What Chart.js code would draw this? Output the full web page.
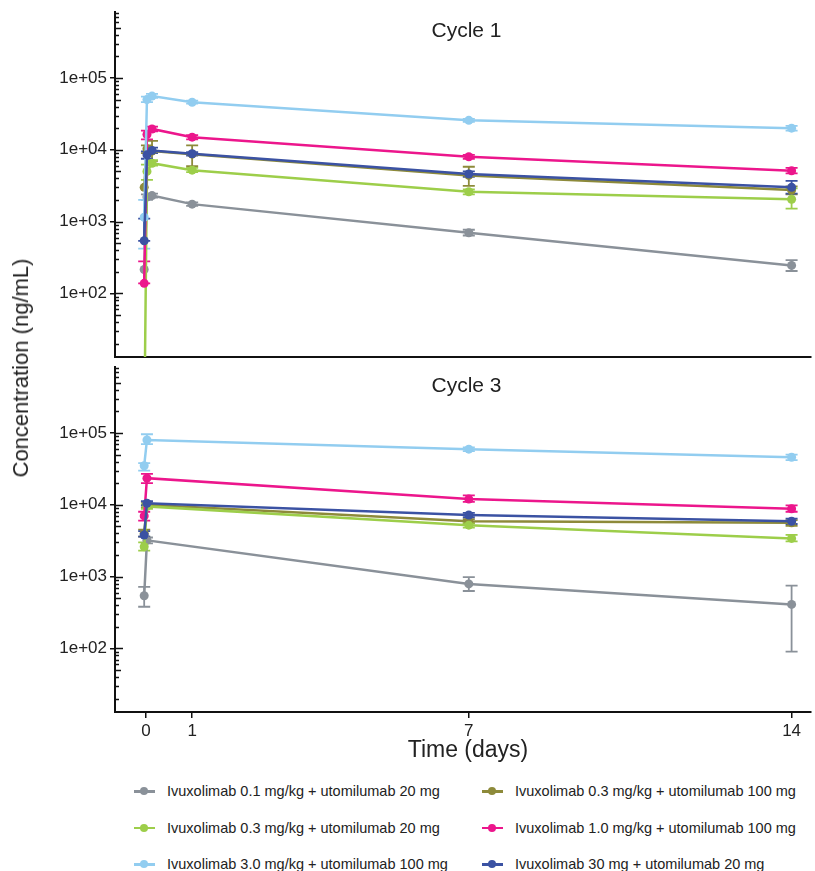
<!DOCTYPE html>
<html>
<head>
<meta charset="utf-8">
<script src="https://cdn.jsdelivr.net/npm/chart.js@4.4.0/dist/chart.umd.min.js"></script>
<style>
  body { margin: 0; background: #fff; font-family: "Liberation Sans", Arial, sans-serif; color: #222; }
  #wrap { position: relative; width: 815px; height: 871px; overflow: hidden; }
  #c1 { position: absolute; left: 0; top: 0; }
  #c3 { position: absolute; left: 0; top: 362px; }
  .ytitle { position: absolute; left: 21px; top: 368px; transform: translate(-50%, -50%) rotate(-90deg); font-size: 22px; white-space: nowrap; }
  .xtitle { position: absolute; left: 468px; top: 749px; transform: translate(-50%, -50%); font-size: 23px; white-space: nowrap; }
  .leg { position: absolute; font-size: 14.5px; display: flex; align-items: center; white-space: nowrap; height: 18px; }
  .mk { position: relative; width: 21px; height: 10px; margin-right: 12px; }
  .mk .ln { position: absolute; left: 0; right: 0; top: 4px; height: 2.5px; }
  .mk .dt { position: absolute; left: 6px; top: 1px; width: 8px; height: 8px; border-radius: 50%; }
</style>
</head>
<body>
<div id="wrap">
  <canvas id="c1" width="815" height="362"></canvas>
  <canvas id="c3" width="815" height="390"></canvas>
  <div class="ytitle">Concentration (ng/mL)</div>
  <div class="xtitle">Time (days)</div>
  <div id="legend"></div>
</div>
<script>
// series, in legend order
const seriesLabels = [
  'Ivuxolimab 0.1 mg/kg + utomilumab 20 mg',
  'Ivuxolimab 0.3 mg/kg + utomilumab 100 mg',
  'Ivuxolimab 0.3 mg/kg + utomilumab 20 mg',
  'Ivuxolimab 1.0 mg/kg + utomilumab 100 mg',
  'Ivuxolimab 3.0 mg/kg + utomilumab 100 mg',
  'Ivuxolimab 30 mg + utomilumab 20 mg'
];
const seriesColors = ['#8a9199', '#8d8a3a', '#9dce4a', '#ec168c', '#92cdf0', '#3b52a3'];

// Cycle 1 (days)
const timesC1 = [-0.04, 0.02, 0.13, 1, 7, 14];
const c1Mean = [
  [215, 2200, 2300, 1750, 700, 245],
  [3000, 10300, 9600, 8700, 4400, 2750],
  [1, 5000, 6500, 5200, 2600, 2050],
  [138, 16300, 19500, 15000, 8000, 5100],
  [1150, 50000, 56000, 46000, 25700, 20000],
  [540, 8500, 9800, 8800, 4600, 3000]
];
const c1Lo = [
  [null, 2000, 2150, 1650, 640, 205],
  [null, 9000, 7000, 5900, 3150, 2400],
  [null, 3800, 6000, 4900, 2400, 1520],
  [138, 14000, 18000, 14000, 7500, 4700],
  [420, 46000, 53000, 44000, 24500, 18500],
  [540, 7500, 9000, 8300, 4200, 2450]
];
const c1Hi = [
  [null, 2400, 2450, 1850, 770, 290],
  [null, 11500, 13300, 11500, 5800, 3100],
  [null, 6200, 7200, 5600, 2800, 2900],
  [280, 18500, 21000, 16000, 8500, 5600],
  [2000, 55000, 60000, 48500, 27000, 21500],
  [1100, 9500, 10700, 9300, 5000, 3700]
];

// Cycle 3 (days)
const timesC3 = [-0.04, 0.02, 7, 14];
const c3Mean = [
  [540, 3200, 790, 410],
  [4000, 10000, 5900, 5600],
  [2600, 9500, 5200, 3400],
  [7000, 23500, 12000, 8800],
  [35000, 80000, 59500, 46000],
  [3800, 10500, 7200, 5900]
];
const c3Lo = [
  [380, 2900, 630, 90],
  [3600, 9200, 5500, 5100],
  [2300, 8800, 4800, 3100],
  [6000, 20000, 11000, 8000],
  [30000, 70000, 56000, 42000],
  [3600, 9800, 6700, 5400]
];
const c3Hi = [
  [720, 3500, 980, 750],
  [4500, 11000, 6300, 6100],
  [3000, 10200, 5600, 3800],
  [8000, 27000, 13500, 9800],
  [38000, 96000, 63000, 50000],
  [4300, 11200, 7700, 6400]
];

const xTickValues = [0, 1, 7, 14];
const yTickValues = [1e2, 1e3, 1e4, 1e5];
const xMin = -0.673, xMax = 14.41;
const yMin = 13, yMax = 8.3e5;
const fontFamily = '"Liberation Sans", Arial, sans-serif';

function makeDatasets(times, mean, lo, hi) {
  return seriesLabels.map((label, i) => ({
    label: label,
    data: times.map((t, j) => ({ x: t, y: mean[i][j] })),
    lo: lo[i],
    hi: hi[i],
    borderColor: seriesColors[i],
    backgroundColor: seriesColors[i],
    borderWidth: 2.5,
    pointRadius: 4.5,
    pointBorderWidth: 0,
    tension: 0,
    order: seriesLabels.length - i
  }));
}

// vertical error bars with caps
const errorBars = {
  id: 'errorBars',
  beforeDatasetsDraw(chart) {
    const { ctx, chartArea: a, scales: { x, y } } = chart;
    ctx.save();
    ctx.beginPath();
    ctx.rect(a.left, a.top, a.right - a.left, a.bottom - a.top);
    ctx.clip();
    chart.data.datasets.forEach(ds => {
      ctx.strokeStyle = ds.borderColor;
      ctx.lineWidth = 1.8;
      ds.data.forEach((p, j) => {
        if (ds.lo[j] == null) return;
        const px = x.getPixelForValue(p.x);
        const y1 = y.getPixelForValue(ds.lo[j]);
        const y2 = y.getPixelForValue(ds.hi[j]);
        ctx.beginPath();
        ctx.moveTo(px, y1); ctx.lineTo(px, y2);
        ctx.moveTo(px - 6, y1); ctx.lineTo(px + 6, y1);
        ctx.moveTo(px - 6, y2); ctx.lineTo(px + 6, y2);
        ctx.stroke();
      });
    });
    ctx.restore();
  }
};

// log minor ticks inside the y axis + panel title
const panelDecor = {
  id: 'panelDecor',
  afterDraw(chart, args, opts) {
    const { ctx, chartArea: a, scales: { x, y } } = chart;
    ctx.save();
    ctx.strokeStyle = '#111';
    ctx.lineWidth = 1.5;
    for (let k = 1; k <= 5; k++) {
      for (let m = 1; m <= 9; m++) {
        const v = m * Math.pow(10, k);
        if (v < yMin || v > yMax) continue;
        const py = Math.round(y.getPixelForValue(v)) + 0.5;
        const len = m === 1 ? 8 : (m === 5 ? 6 : 4);
        ctx.beginPath();
        ctx.moveTo(a.left, py);
        ctx.lineTo(a.left + len, py);
        ctx.stroke();
      }
    }
    ctx.fillStyle = '#222';
    ctx.font = '21px ' + fontFamily;
    ctx.textAlign = 'center';
    ctx.textBaseline = 'middle';
    ctx.fillText(opts.title, x.getPixelForValue(6.95), a.top + 19);
    ctx.restore();
  }
};

function noPadding(s) {
  s.paddingTop = 0;
  s.paddingBottom = 0;
  s.paddingLeft = 0;
  s.paddingRight = 0;
}

function makeScales(showX) {
  return {
    x: {
      type: 'linear',
      min: xMin,
      max: xMax,
      afterBuildTicks: s => { s.ticks = xTickValues.map(v => ({ value: v })); },
      ticks: {
        display: showX,
        color: '#222',
        padding: 3,
        autoSkip: false,
        maxRotation: 0,
        font: { size: 17, family: fontFamily }
      },
      grid: { drawOnChartArea: false, drawTicks: showX, tickLength: 6, color: '#111', lineWidth: 1.5 },
      border: { display: true, color: '#111', width: 2 },
      afterFit: s => { s.height = showX ? 40 : 0; noPadding(s); }
    },
    y: {
      type: 'logarithmic',
      min: yMin,
      max: yMax,
      afterBuildTicks: s => { s.ticks = yTickValues.map(v => ({ value: v, major: true })); },
      ticks: {
        color: '#222',
        padding: 3,
        font: { size: 17, family: fontFamily },
        callback: v => Number(v).toExponential(0).replace('e+', 'e+0')
      },
      grid: { drawOnChartArea: false, tickLength: 5, color: '#111', lineWidth: 1.5 },
      border: { display: true, color: '#111', width: 2 },
      afterFit: s => { s.width = 115; noPadding(s); }
    }
  };
}

function makeChart(id, title, times, mean, lo, hi, showX, pad) {
  return new Chart(document.getElementById(id), {
    type: 'line',
    data: { datasets: makeDatasets(times, mean, lo, hi) },
    options: {
      responsive: false,
      animation: false,
      layout: { padding: pad },
      scales: makeScales(showX),
      plugins: {
        legend: { display: false },
        tooltip: { enabled: false },
        panelDecor: { title: title }
      }
    },
    plugins: [errorBars, panelDecor]
  });
}

makeChart('c1', 'Cycle 1', timesC1, c1Mean, c1Lo, c1Hi, false, { top: 12, right: 0, bottom: 5, left: 0 });
makeChart('c3', 'Cycle 3', timesC3, c3Mean, c3Lo, c3Hi, true, { top: 5, right: 0, bottom: 0, left: 0 });

// legend, two columns filled row by row
const legend = document.getElementById('legend');
seriesLabels.forEach((label, i) => {
  const item = document.createElement('div');
  item.className = 'leg';
  item.style.left = (i % 2 === 0 ? 134 : 482) + 'px';
  item.style.top = (782 + Math.floor(i / 2) * 36.5) + 'px';
  item.innerHTML = '<span class="mk"><span class="ln" style="background:' + seriesColors[i] +
    '"></span><span class="dt" style="background:' + seriesColors[i] + '"></span></span><span>' + label + '</span>';
  legend.appendChild(item);
});
</script>
</body>
</html>
